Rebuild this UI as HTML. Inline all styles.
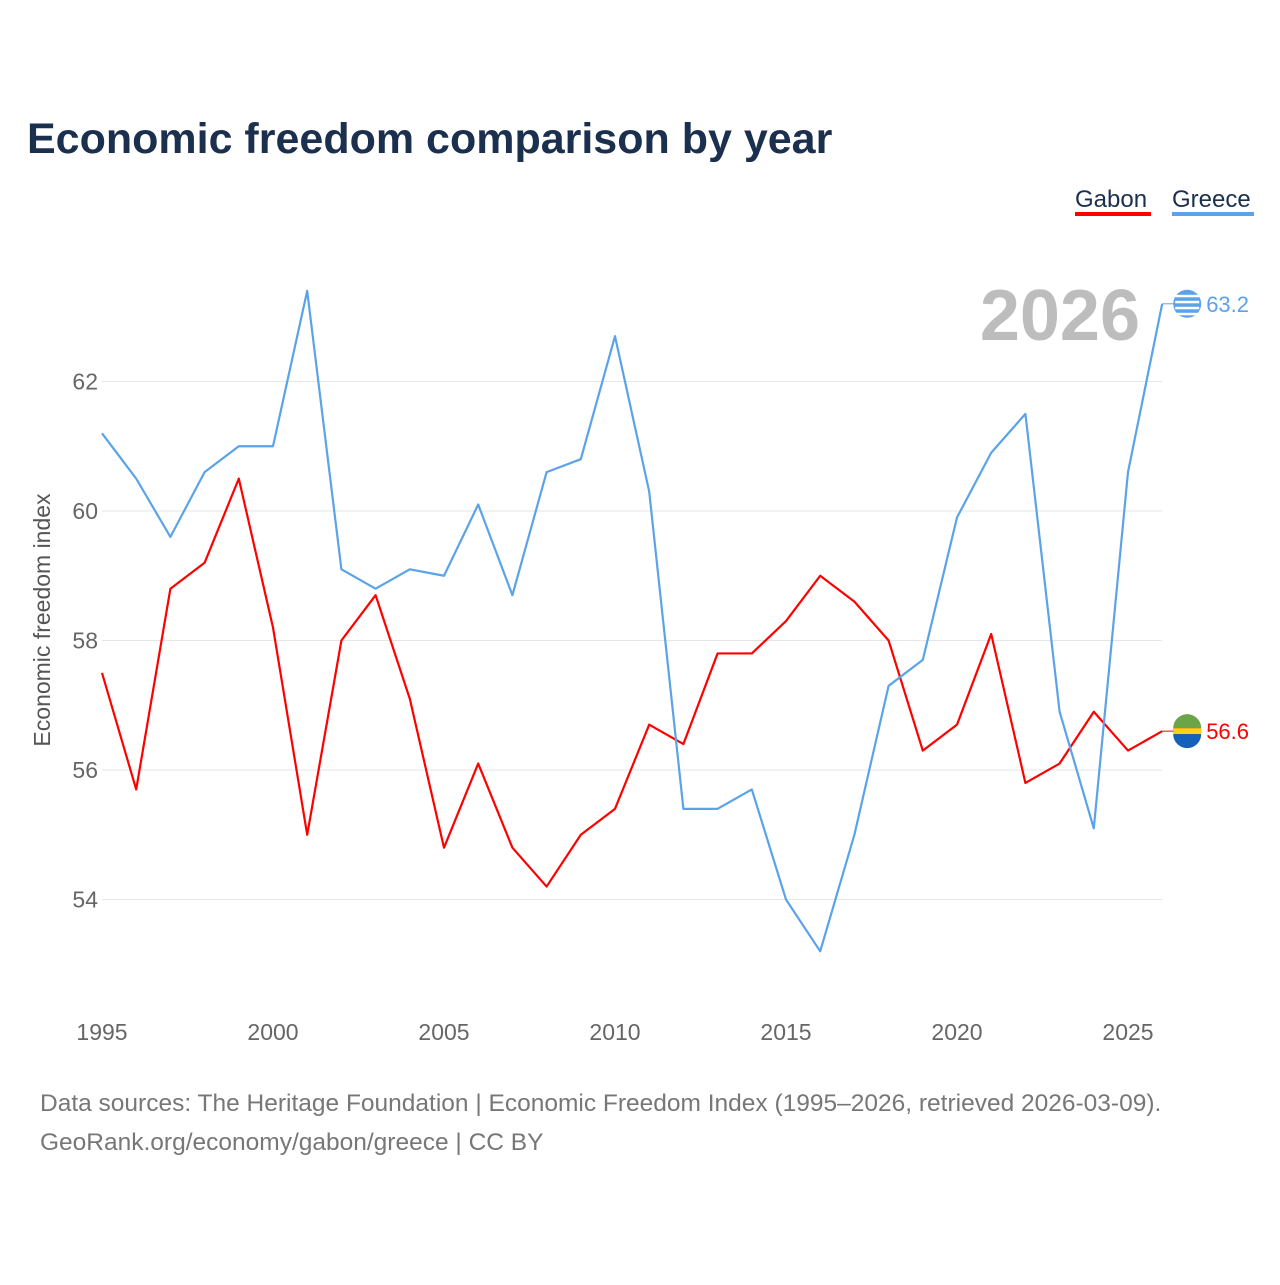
<!DOCTYPE html>
<html><head><meta charset="utf-8"><style>
body{margin:0;background:#fff;width:1280px;height:1280px;overflow:hidden;font-family:"Liberation Sans",sans-serif}
</style></head><body>
<svg id="chart" width="1280" height="1280" xmlns="http://www.w3.org/2000/svg" font-family="Liberation Sans, sans-serif">
<text x="27" y="153" font-size="43" font-weight="bold" fill="#1b2f4e">Economic freedom comparison by year</text>
<g>
<text x="1075" y="207" font-size="24" fill="#1b2f4e">Gabon</text>
<rect x="1075" y="212" width="76" height="4" fill="#ff0000"/>
<text x="1172" y="207" font-size="24" fill="#1b2f4e">Greece</text>
<rect x="1172" y="212" width="82" height="4" fill="#5ba3e8"/>
</g>
<text x="1140" y="340" font-size="72" font-weight="bold" fill="#bdbdbd" text-anchor="end">2026</text>
<g id="grid"></g><g id="xaxis"></g><g id="series"></g>
<text transform="translate(50,620) rotate(-90)" font-size="23" fill="#555" text-anchor="middle">Economic freedom index</text>
<text x="40" y="1111" font-size="24.5" fill="#777">Data sources: The Heritage Foundation | Economic Freedom Index (1995–2026, retrieved 2026-03-09).</text>
<text x="40" y="1150" font-size="24.5" fill="#777">GeoRank.org/economy/gabon/greece | CC BY</text>
</svg>
<script>
const years=[1995,1996,1997,1998,1999,2000,2001,2002,2003,2004,2005,2006,2007,2008,2009,2010,2011,2012,2013,2014,2015,2016,2017,2018,2019,2020,2021,2022,2023,2024,2025,2026];
const gabon=[57.5,55.7,58.8,59.2,60.5,58.2,55.0,58.0,58.7,57.1,54.8,56.1,54.8,54.2,55.0,55.4,56.7,56.4,57.8,57.8,58.3,59.0,58.6,58.0,56.3,56.7,58.1,55.8,56.1,56.9,56.3,56.6];
const greece=[61.2,60.5,59.6,60.6,61.0,61.0,63.4,59.1,58.8,59.1,59.0,60.1,58.7,60.6,60.8,62.7,60.3,55.4,55.4,55.7,54.0,53.2,55.0,57.3,57.7,59.9,60.9,61.5,56.9,55.1,60.6,63.2];
const yTicks=[54,56,58,60,62];
const xTicks=[1995,2000,2005,2010,2015,2020,2025];
const NS='http://www.w3.org/2000/svg';
const xs=y=>102+(y-1995)*(1128-102)/30;
const ys=v=>511-(v-60)*64.75;
function mk(t,a,p){const e=document.createElementNS(NS,t);for(const k in a)e.setAttribute(k,a[k]);p.appendChild(e);return e;}
const grid=document.getElementById('grid');
yTicks.forEach(v=>{
 const l=mk('line',{x1:102,x2:1162,y1:ys(v),y2:ys(v),stroke:'#e6e6e6','stroke-width':1},grid);
 
 
 const t=mk('text',{x:98,y:ys(v)+8,'font-size':23,fill:'#666','text-anchor':'end'},grid);t.textContent=v;
 
 
});
const xa=document.getElementById('xaxis');
xTicks.forEach(y=>{
 const t=mk('text',{x:xs(y),y:1040,'font-size':23,fill:'#666','text-anchor':'middle'},xa);t.textContent=y;
 
 
});
const sg=document.getElementById('series');
function line(vals,color,name){
 const p=mk('polyline',{points:vals.map((v,i)=>xs(years[i])+','+ys(v)).join(' '),fill:'none',stroke:color,'stroke-width':2.2,'stroke-linejoin':'round'},sg);
 
 
 const last=vals[vals.length-1],lx=xs(years[years.length-1]),ly=ys(last);
 mk('line',{x1:lx,x2:lx+12,y1:ly,y2:ly,stroke:color,'stroke-width':1},sg);
 const c=mk('circle',{cx:lx+25,cy:ly,r:14,fill:color},sg);
 
 
 const t=mk('text',{x:lx+44,y:ly+8,'font-size':22,fill:color},sg);t.textContent=last.toFixed(1);
 
 
 return c;
}
line(gabon,'#ff0000','gabon');
line(greece,'#5ba3e8','greece');
const gy=ys(gabon[gabon.length-1]),gx=xs(2026)+25;
mk('rect',{x:gx-14,y:gy-3,width:28,height:6,fill:'#fcd116'},sg);
mk('path',{d:`M${gx-14} ${gy-3} A14 14 0 0 1 ${gx+14} ${gy-3} Z`,fill:'#6ca547'},sg);
mk('path',{d:`M${gx-14} ${gy+3} A14 14 0 0 0 ${gx+14} ${gy+3} Z`,fill:'#1560b8'},sg);
const ry=ys(greece[greece.length-1]);
[-8,-2,4,10].forEach(o=>mk('rect',{x:gx-12,y:ry+o-1,width:24,height:2.5,fill:'#fff'},sg));
</script>
</body></html>
